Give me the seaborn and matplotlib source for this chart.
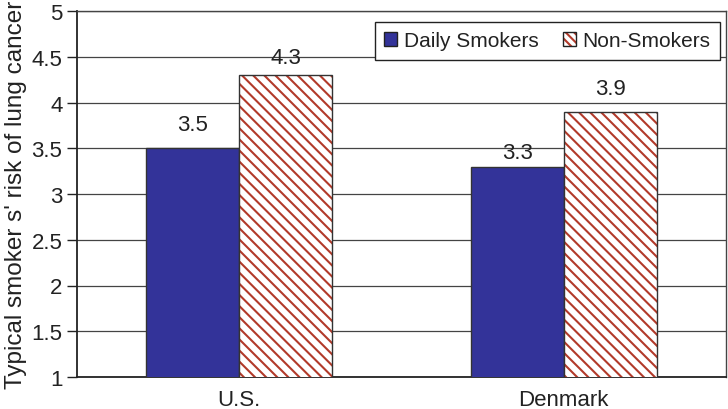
import matplotlib
matplotlib.use("Agg")
import matplotlib.pyplot as plt
from matplotlib.patches import Rectangle, Patch
from matplotlib.legend_handler import HandlerTuple
from matplotlib.ticker import MultipleLocator, FixedLocator
import seaborn as sns
import pandas as pd

countries = ["U.S.", "Denmark"]
groups = ["Daily Smokers", "Non-Smokers"]
daily = [3.5, 3.3]
non_smokers = [4.3, 3.9]
ylabel = "Typical smoker s' risk of lung cancer"

df = pd.DataFrame({
    "country": countries * 2,
    "group": [groups[0]] * len(countries) + [groups[1]] * len(countries),
    "value": daily + non_smokers,
})

sns.set_style("white")
plt.rcParams["font.family"] = ["Liberation Sans", "DejaVu Sans"]
plt.rcParams["hatch.linewidth"] = 1.5
text_color = "#222222"
blue = "#333399"
red = "#B23A2A"
FS = 16
# vertical gap (data units) between each bar top and its value label, in patch order
label_gaps = [0.14, 0.04, 0.075, 0.14]

fig = plt.figure(figsize=(7.28, 4.10), dpi=100)
ax = fig.add_axes([77 / 728, 1 - 378 / 410, (726 - 77) / 728, (378 - 12) / 410])

sns.barplot(data=df, x="country", y="value", hue="group", order=countries,
            hue_order=groups, palette=[blue, "white"], saturation=1, width=0.572,
            edgecolor="#333333", linewidth=1.0, ax=ax, legend=False, zorder=3)

bars = [p for p in ax.patches if isinstance(p, Rectangle)]
for i, p in enumerate(bars):
    if i >= len(countries):
        p.set_hatch("\\\\\\")
        p.set_edgecolor(red)
        p.set_linewidth(0)
        ax.add_patch(Rectangle(p.get_xy(), p.get_width(), p.get_height(),
                               fill=False, edgecolor="#333333", linewidth=1.0,
                               zorder=4))
    val = p.get_height()
    ax.text(p.get_x() + p.get_width() / 2, val + label_gaps[i], f"{val:.1f}",
            ha="center", va="bottom", fontsize=FS, color=text_color, zorder=5)

ax.set_ylim(1, 5)
ax.set_xlim(-0.5, len(countries) - 0.5)
ax.yaxis.set_major_locator(MultipleLocator(0.5))
ax.yaxis.set_major_formatter(plt.FuncFormatter(lambda v, _: f"{v:g}"))
ax.grid(axis="y", color="#444444", linewidth=0.9, zorder=0)
ax.set_axisbelow(True)

ax.xaxis.set_minor_locator(FixedLocator([i - 0.5 for i in range(len(countries) + 1)]))
ax.tick_params(axis="x", which="major", length=0, pad=9, labelsize=FS, labelcolor=text_color)
ax.tick_params(axis="x", which="minor", length=5, width=1.0, color="#222222", direction="out")
ax.tick_params(axis="y", which="major", length=7, width=1.0, color="#222222",
               direction="out", left=True, labelsize=FS, labelcolor=text_color, pad=3.5)

ax.set_xlabel("")
ax.set_ylabel(ylabel, fontsize=17.5, color=text_color, labelpad=3)

for side in ["left", "bottom"]:
    ax.spines[side].set_color("#222222")
    ax.spines[side].set_linewidth(1.3)
for side in ["top", "right"]:
    ax.spines[side].set_visible(True)
    ax.spines[side].set_color("#444444")
    ax.spines[side].set_linewidth(1.0)

h_daily = Patch(facecolor=blue, edgecolor="#222222", linewidth=1.0)
h_non = (Patch(facecolor="white", edgecolor=red, hatch="\\\\\\\\", linewidth=0),
         Patch(facecolor="none", edgecolor="#222222", linewidth=1.0))
leg = ax.legend([h_daily, h_non], groups, ncol=2, loc="upper right",
                handler_map={tuple: HandlerTuple(ndivide=1, pad=0)},
                bbox_to_anchor=(0.9908, 0.970), borderaxespad=0, fontsize=15,
                frameon=True, fancybox=False, edgecolor="#222222", framealpha=1,
                handlelength=0.6, handleheight=0.6, handletextpad=0.33,
                columnspacing=1.2, borderpad=0.45, labelcolor=text_color)
leg.get_frame().set_linewidth(1.0)
leg.set_zorder(10)

fig.savefig("out.png", dpi=100)
